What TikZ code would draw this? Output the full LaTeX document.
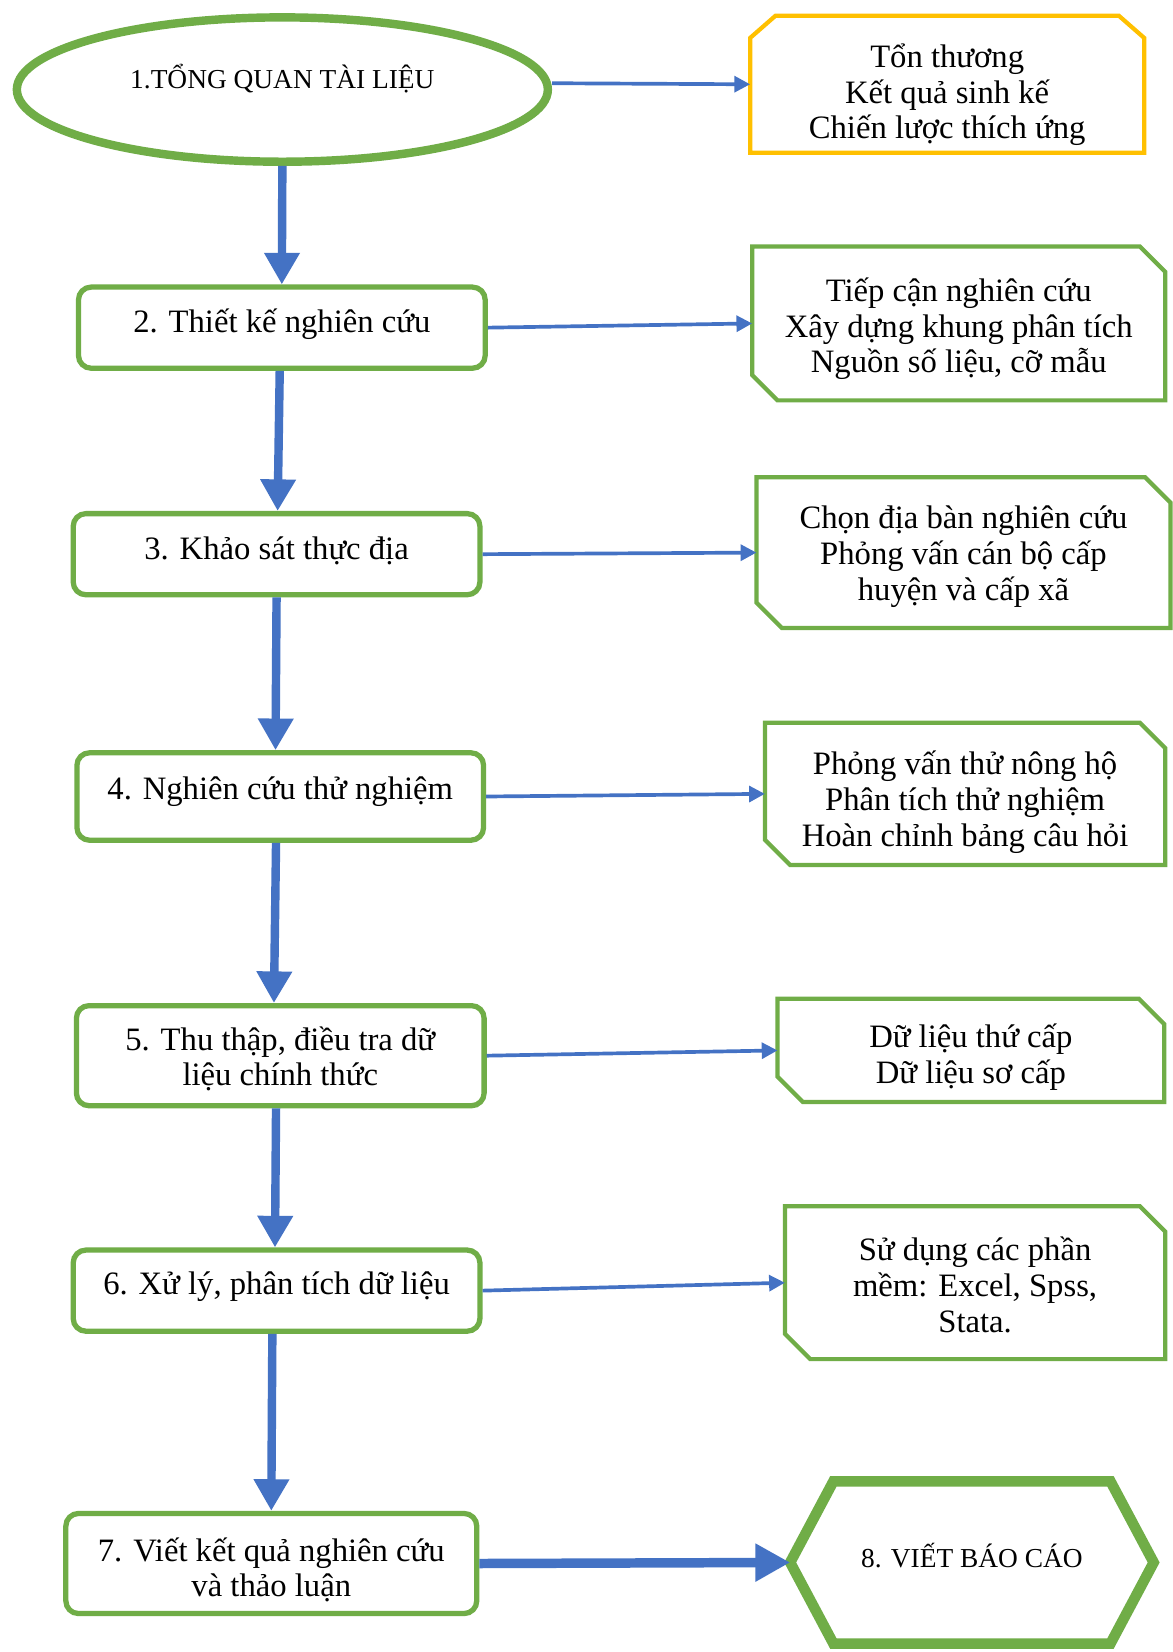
\documentclass[tikz,border=0pt]{standalone}
\usepackage{fontspec}
\setmainfont{Liberation Serif}
\usetikzlibrary{arrows.meta,shapes.geometric}
\definecolor{lineGreen}{HTML}{70AD47}
\definecolor{flowBlue}{HTML}{4472C4}
\definecolor{noteYellow}{HTML}{FFC000}
\newcommand\boxfont{\fontsize{31}{34}\selectfont}
\newcommand\capsfont{\fontsize{26}{30}\selectfont}
% outline of a box with the top-right and bottom-left corners cut off
\newcommand\snipTRBL[2][]{%
  \draw[snipline,#1] (#2.north west) -- ([xshift=-24pt]#2.north east)
    -- ([yshift=-24pt]#2.north east) -- (#2.south east)
    -- ([xshift=24pt]#2.south west) -- ([yshift=24pt]#2.south west) -- cycle;}
% outline of a box with both top corners cut off
\newcommand\snipTop[2][]{%
  \draw[snipline,#1] ([yshift=-21pt]#2.north west) -- ([xshift=24pt]#2.north west)
    -- ([xshift=-24pt]#2.north east) -- ([yshift=-21pt]#2.north east)
    -- (#2.south east) -- (#2.south west) -- cycle;}
\begin{document}
\begin{tikzpicture}[x=1pt,y=-1pt,
  stepbox/.style={draw=lineGreen, line width=5pt, rounded corners=12pt,
    minimum width=386pt, minimum height=77pt, inner sep=0pt},
  notebox/.style={draw=none, inner sep=0pt, outer sep=0pt},
  txt/.style={font=\boxfont, align=center, inner sep=0pt},
  snipline/.style={draw=lineGreen, line width=4pt, line join=miter},
  down/.style={draw=flowBlue, line width=8pt, -{Triangle[width=32pt,length=30pt]}},
  side/.style={draw=flowBlue, line width=3.5pt, -{Triangle[width=15pt,length=15pt]}},
  final/.style={draw=flowBlue, line width=9pt, -{Triangle[width=34pt,length=33pt]}},
]
\fill[white] (0,0) rectangle (1113,1568);
\useasboundingbox (0,0) rectangle (1113,1568);

% main steps
\node[ellipse, draw=lineGreen, line width=8pt, minimum width=504pt, minimum height=137pt,
  inner sep=0pt, label={[font=\capsfont, yshift=10pt]center:1.TỔNG QUAN TÀI LIỆU}] (s1) at (268,85) {};
\node[stepbox, label={[txt, yshift=3pt]center:2. Thiết kế nghiên cứu}] (s2) at (267.5,311) {};
\node[stepbox, label={[txt, yshift=3pt]center:3. Khảo sát thực địa}] (s3) at (262.5,526) {};
\node[stepbox, minimum height=83pt, label={[txt, yshift=5pt]center:4. Nghiên cứu thử nghiệm}] (s4) at (266,756) {};
\node[stepbox, minimum height=95pt, minimum width=387pt,
  label={[txt, yshift=-3pt]center:{5. Thu thập, điều tra dữ\\liệu chính thức}}] (s5) at (266,1002) {};
\node[stepbox, label={[txt, yshift=4pt]center:6. Xử lý, phân tích dữ liệu}] (s6) at (262.5,1225) {};
\node[stepbox, minimum height=95pt, minimum width=390pt,
  label={[txt, yshift=-6pt]center:{7. Viết kết quả nghiên cứu\\và thảo luận}}] (s7) at (257.5,1484) {};

% side notes
\node[notebox, minimum width=374pt, minimum height=130pt,
  label={[txt, yshift=-10pt]center:{Tổn thương\\Kết quả sinh kế\\Chiến lược thích ứng}}] (n1) at (899,80) {};
\snipTop[draw=noteYellow]{n1}
\node[notebox, minimum width=392pt, minimum height=146pt,
  label={[txt, yshift=-5pt]center:{Tiếp cận nghiên cứu\\Xây dựng khung phân tích\\Nguồn số liệu, cỡ mẫu}}] (n2) at (910,307) {};
\snipTRBL{n2}
\node[notebox, minimum width=393pt, minimum height=143pt,
  label={[txt, yshift=-4pt]center:{Chọn địa bàn nghiên cứu\\Phỏng vấn cán bộ cấp\\huyện và cấp xã}}] (n3) at (914.5,524.5) {};
\snipTRBL{n3}
\node[notebox, minimum width=380pt, minimum height=135pt,
  label={[txt, yshift=-8pt]center:{Phỏng vấn thử nông hộ\\Phân tích thử nghiệm\\Hoàn chỉnh bảng câu hỏi}}] (n4) at (916,753.5) {};
\snipTRBL{n4}
\node[notebox, minimum width=367pt, minimum height=98pt,
  label={[txt, yshift=-6pt]center:{Dữ liệu thứ cấp\\Dữ liệu sơ cấp}}] (n5) at (921.5,997) {};
\snipTRBL{n5}
\node[notebox, minimum width=361pt, minimum height=145pt,
  label={[txt, yshift=-2pt]center:{Sử dụng các phần\\mềm: Excel, Spss,\\Stata.}}] (n6) at (925.5,1217.5) {};
\snipTRBL{n6}

% final report hexagon
\node[notebox, minimum width=345pt, minimum height=154pt,
  label={[font=\capsfont, yshift=7pt]center:8. VIẾT BÁO CÁO}] (s8) at (922.5,1483) {};
\draw[draw=lineGreen, line width=10pt, line join=miter]
  (s8.west) -- ([xshift=41pt]s8.north west) -- ([xshift=-41pt]s8.north east)
  -- (s8.east) -- ([xshift=-41pt]s8.south east) -- ([xshift=41pt]s8.south west) -- cycle;

% flow downwards
\draw[down] (s1.south) -- (s2.north);
\draw[down] ([xshift=-2pt]s2.south) -- ([xshift=-4pt]s2.south |- s3.north);
\draw[down] (s3.south) -- ([xshift=-1pt]s3.south |- s4.north);
\draw[down] ([xshift=-4pt]s4.south) -- ([xshift=-6pt]s4.south |- s5.north);
\draw[down] ([xshift=-4pt]s5.south) -- ([xshift=-5pt]s5.south |- s6.north);
\draw[down] ([xshift=-4pt]s6.south) -- ([xshift=-5pt]s6.south |- s7.north);

% links to the notes
\draw[side] ([yshift=6pt]s1.east) -- (n1.west);
\draw[side] (s2.east) -- (n2.west);
\draw[side] (s3.east) -- (n3.west);
\draw[side] (s4.east) -- (n4.west);
\draw[side] (s5.east) -- (n5.west);
\draw[side] (s6.east) -- (n6.west);
\draw[final] (s7.east) -- (s8.west);
\end{tikzpicture}
\end{document}
